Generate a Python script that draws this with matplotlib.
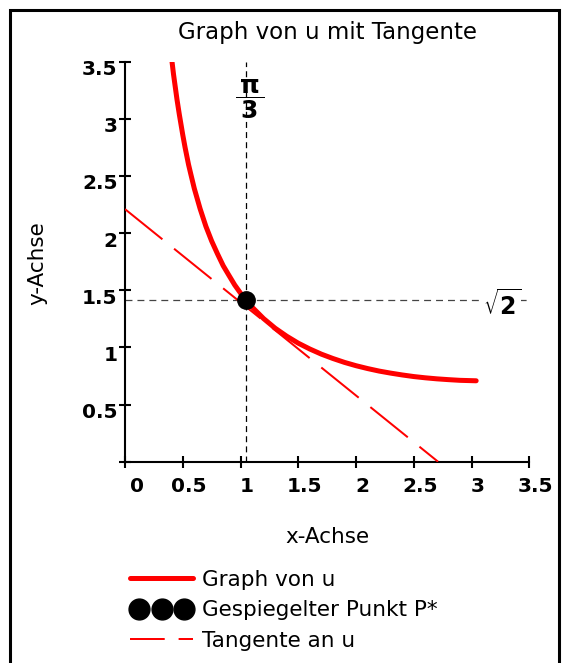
import numpy as np
import matplotlib
matplotlib.use('Agg')
import matplotlib.pyplot as plt
from matplotlib.lines import Line2D
from matplotlib.patches import Rectangle
from matplotlib.transforms import ScaledTranslation
from matplotlib.legend_handler import HandlerLine2D

plt.rcParams['font.family'] = ['DejaVu Sans']
plt.rcParams['mathtext.fontset'] = 'dejavusans'
plt.rcParams['mathtext.default'] = 'bf'
plt.rcParams['lines.scale_dashes'] = False

# Graph von u
u_x = [0.40, 0.42, 0.45, 0.47, 0.50, 0.52, 0.55, 0.57, 0.60, 0.65, 0.70, 0.75,
       0.80, 0.85, 0.90, 0.95, 1.00, 1.05, 1.10, 1.20, 1.30, 1.40, 1.50, 1.60,
       1.70, 1.80, 1.90, 2.00, 2.10, 2.20, 2.30, 2.40, 2.50, 2.60, 2.70, 2.80,
       2.90, 3.04]
u_y = [3.56, 3.39, 3.17, 3.04, 2.86, 2.75, 2.60, 2.515, 2.39, 2.214, 2.06, 1.931,
       1.82, 1.715, 1.63, 1.546, 1.475, 1.411, 1.353, 1.252, 1.168, 1.098, 1.037, 0.986,
       0.941, 0.903, 0.869, 0.840, 0.815, 0.793, 0.775, 0.759, 0.745, 0.734, 0.725, 0.718,
       0.712, 0.708]

# Tangente an u
tan_x = [0.0, 2.71]
tan_y = [2.21, 0.0]

# Gespiegelter Punkt P*
p_x = [1.047]
p_y = [1.414]

xticks = [0, 0.5, 1, 1.5, 2, 2.5, 3, 3.5]
xticklabels = ['0', '0.5', '1', '1.5', '2', '2.5', '3', '3.5']
yticks = [0, 0.5, 1, 1.5, 2, 2.5, 3, 3.5]
yticklabels = ['', '0.5', '1', '1.5', '2', '2.5', '3', '3.5']

fig = plt.figure(figsize=(5.68, 6.63), dpi=100)
ax = fig.add_axes([125 / 568, 1 - 461.7 / 663, 404.3 / 568, 400 / 663])

# hilfslinien bei pi/3 und sqrt(2)
ax.plot([p_x[0], p_x[0]], [0, 3.5], color='black', lw=0.9, dashes=(4.3, 3.0), zorder=1)
ax.plot([0, 3.5], [p_y[0], p_y[0]], color='#444444', lw=0.9, dashes=(5.0, 3.6), zorder=1)

curve, = ax.plot(u_x, u_y, color='red', lw=3.6, solid_capstyle='round',
                 solid_joinstyle='round', zorder=3)
ax.plot(tan_x, tan_y, color='red', lw=1.44, dashes=(34.6, 10.8), zorder=3)
ax.plot(p_x, p_y, 'o', color='black', ms=12.5, ls='none', zorder=5)

ax.text(1.085, 3.17, r'$\dfrac{\,\pi\,}{\,3\,}$', fontsize=18, ha='center', va='center', zorder=4)
ax.text(3.264, 1.37, r'$\sqrt{2}$', fontsize=17, ha='center', va='center', zorder=4,
        bbox=dict(facecolor='white', edgecolor='none', pad=0))

ax.set_xlim(0, 3.5)
ax.set_ylim(0, 3.5)
ax.spines['top'].set_visible(False)
ax.spines['right'].set_visible(False)
for side in ['left', 'bottom']:
    ax.spines[side].set_linewidth(1.5)
ax.set_xticks(xticks)
ax.set_xticklabels(xticklabels)
ax.set_yticks(yticks)
ax.set_yticklabels(yticklabels)
ax.tick_params(direction='inout', length=8.6, width=1.5, labelsize=14.5)
ax.tick_params(axis='x', pad=7)
ax.tick_params(axis='y', pad=1)
for lab in ax.get_xticklabels() + ax.get_yticklabels():
    lab.set_fontweight('bold')

# Beschriftungen leicht versetzt wie im Original
for i, lab in enumerate(ax.get_xticklabels()):
    dx = 12 if i == 0 else 6
    lab.set_transform(lab.get_transform() + ScaledTranslation(dx / 100, 0, fig.dpi_scale_trans))
for lab in ax.get_yticklabels():
    lab.set_transform(lab.get_transform() + ScaledTranslation(0, -6 / 100, fig.dpi_scale_trans))

ax.set_title('Graph von u mit Tangente', fontsize=16.5, pad=16)
ax.set_xlabel('x-Achse', fontsize=15.5)
ax.xaxis.set_label_coords(0.5, -0.204)
ax.xaxis.label.set_va('baseline')
ax.set_ylabel('y-Achse', fontsize=15.5, va='center')
ax.yaxis.set_label_coords(-0.2164, 0.497)

# legend handles
dot_proxy = Line2D([], [], marker='o', color='black', ms=15, ls='none')
tan_proxy = Line2D([], [], color='red', lw=1.44, dashes=(25, 10))
fig.legend([curve, dot_proxy, tan_proxy],
           ['Graph von u', 'Gespiegelter Punkt P*', 'Tangente an u'],
           loc='upper left', bbox_to_anchor=(130 / 568, 1 - 570 / 663),
           frameon=False, fontsize=15.5, handlelength=2.93,
           handletextpad=0.42, labelspacing=0.48, borderpad=0, borderaxespad=0,
           handler_map={dot_proxy: HandlerLine2D(numpoints=3, marker_pad=0.44)})

fig.add_artist(Rectangle((9.5 / 568, -0.05), 549 / 568, 1.05 - 10.5 / 663,
                         transform=fig.transFigure, fill=False, edgecolor='black',
                         lw=2.2, clip_on=False))

fig.savefig('out.png', dpi=100)
